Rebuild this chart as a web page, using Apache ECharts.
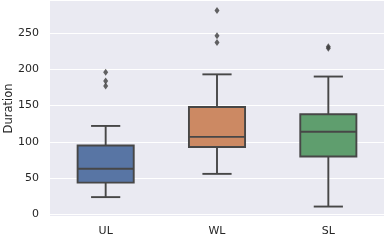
<!DOCTYPE html>
<html>
<head>
<meta charset="utf-8">
<script src="https://cdn.jsdelivr.net/npm/echarts@6/dist/echarts.min.js"></script>
<style>html,body{margin:0;padding:0;background:#fff}#c{width:385px;height:240px}</style>
</head>
<body>
<div id="c"></div>
<script>
const categories = ['UL', 'WL', 'SL'];
const lowerWhisker = [24, 56, 11];
const q1 = [44, 93, 80];
const median = [63, 107, 114];
const q3 = [95, 148, 138];
const upperWhisker = [122, 193, 190];
const outliersUL = [177, 184, 196];
const outliersWL = [237, 246, 281];
const outliersSL = [229, 231];
const yTicks = [0, 50, 100, 150, 200, 250];
const fills = ['#5875a4', '#cc8963', '#5f9e6e'];

const boxData = categories.map((c, i) => [i, lowerWhisker[i], q1[i], median[i], q3[i], upperWhisker[i]]);
const outlierData = [];
[outliersUL, outliersWL, outliersSL].forEach((arr, i) => arr.forEach(v => outlierData.push([i, v])));

const lineColor = '#474747';
const chart = echarts.init(document.getElementById('c'), null, {renderer: 'canvas'});
chart.setOption({
  animation: false,
  grid: {left: 50, right: 1, top: 1, bottom: 24, show: true, backgroundColor: '#eaeaf2', borderWidth: 0,
         containLabel: false, outerBoundsMode: 'none'},
  xAxis: {
    type: 'category', data: categories, boundaryGap: true,
    axisLine: {show: false}, axisTick: {show: false}, splitLine: {show: false},
    axisLabel: {color: '#262626', fontSize: 11, fontFamily: 'DejaVu Sans', margin: 10}
  },
  yAxis: {
    type: 'value', min: -2, max: 294,
    name: 'Duration', nameLocation: 'middle', nameGap: 35, nameMoveOverlap: false,
    nameTextStyle: {color: '#262626', fontSize: 11.5, fontFamily: 'DejaVu Sans'},
    axisLine: {show: false},
    axisTick: {show: false, customValues: yTicks},
    axisLabel: {customValues: yTicks, color: '#262626', fontSize: 11, fontFamily: 'DejaVu Sans', margin: 11},
    splitLine: {show: true, lineStyle: {color: '#ffffff', width: 1}}
  },
  series: [
    {
      type: 'custom',
      data: boxData,
      encode: {x: 0, y: [1, 2, 3, 4, 5]},
      renderItem: function (params, api) {
        const i = api.value(0);
        const pMin = api.coord([i, api.value(1)]);
        const pQ1 = api.coord([i, api.value(2)]);
        const pMed = api.coord([i, api.value(3)]);
        const pQ3 = api.coord([i, api.value(4)]);
        const pMax = api.coord([i, api.value(5)]);
        const band = api.size([1, 0])[0];
        const cx = pMed[0];
        const hw = band * 0.252;
        const cw = hw * 0.52;
        const st = {stroke: lineColor, lineWidth: 1.9};
        return {
          type: 'group',
          children: [
            {type: 'line', shape: {x1: cx, y1: pMin[1], x2: cx, y2: pQ1[1]}, style: st},
            {type: 'line', shape: {x1: cx, y1: pQ3[1], x2: cx, y2: pMax[1]}, style: st},
            {type: 'line', shape: {x1: cx - cw, y1: pMin[1], x2: cx + cw, y2: pMin[1]}, style: st},
            {type: 'line', shape: {x1: cx - cw, y1: pMax[1], x2: cx + cw, y2: pMax[1]}, style: st},
            {type: 'rect', shape: {x: cx - hw, y: pQ3[1], width: 2 * hw, height: pQ1[1] - pQ3[1]},
             style: {fill: fills[i], stroke: lineColor, lineWidth: 1.9}},
            {type: 'line', shape: {x1: cx - hw, y1: pMed[1], x2: cx + hw, y2: pMed[1]}, style: st}
          ]
        };
      }
    },
    {
      type: 'scatter',
      data: outlierData,
      symbol: 'diamond',
      symbolSize: [5, 7],
      itemStyle: {color: '#3d3d3d'},
      z: 5
    }
  ]
});
</script>
</body>
</html>
